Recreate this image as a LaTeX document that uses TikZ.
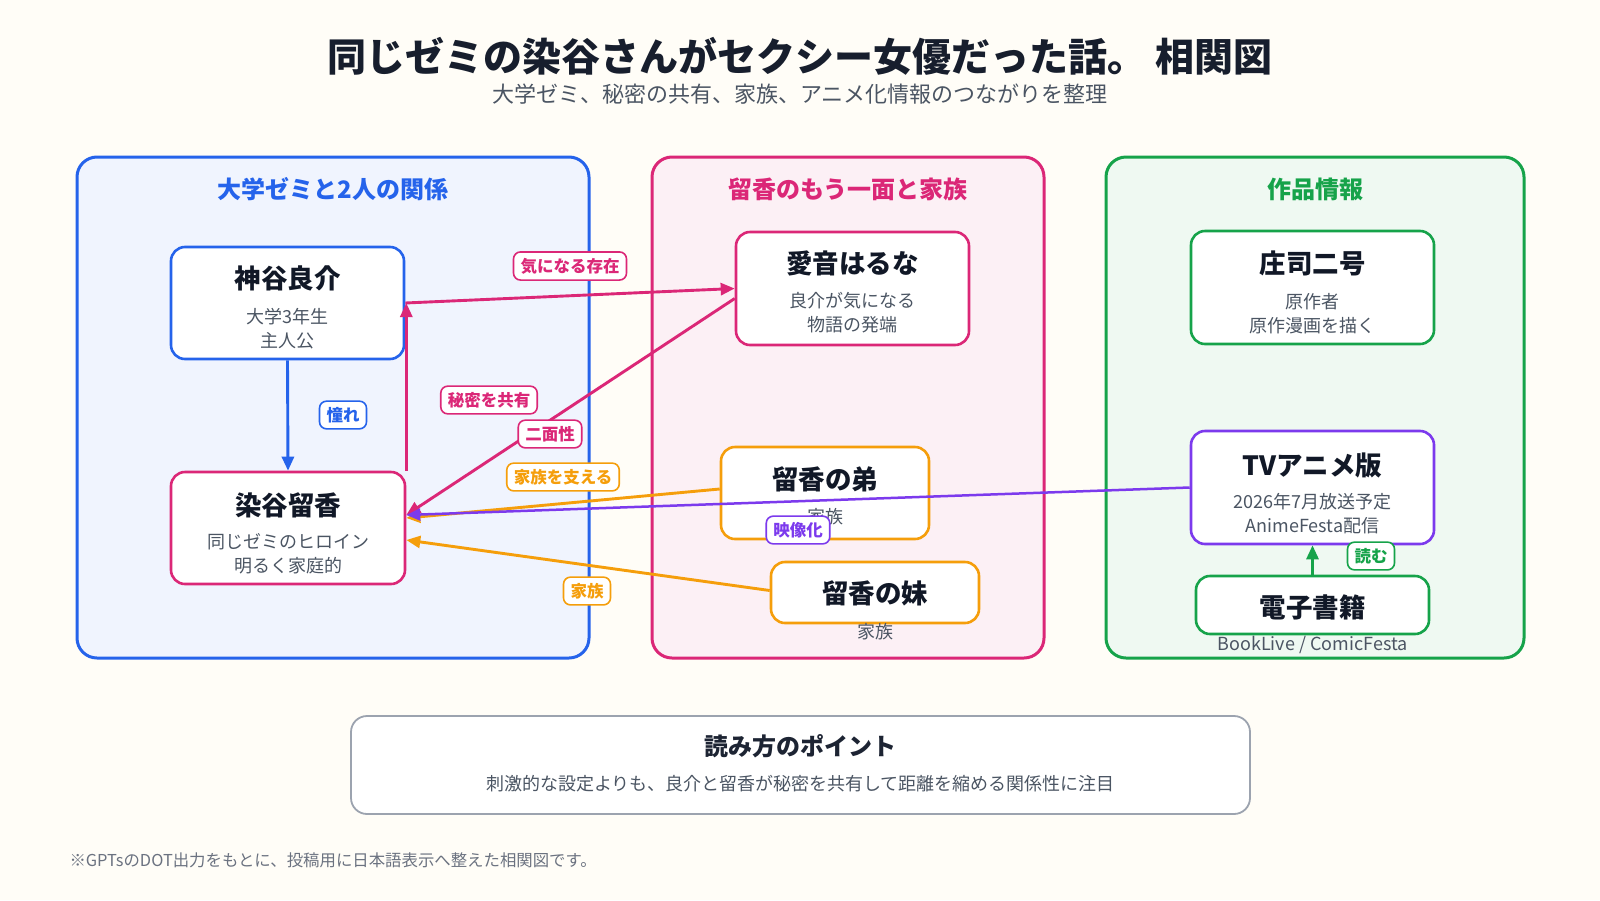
\documentclass[tikz,border=0pt]{standalone}
\usepackage{fontspec}
\setmainfont{Noto Sans CJK JP}
\usetikzlibrary{arrows.meta}

\definecolor{bg}{HTML}{FFFDF7}
\definecolor{ink}{HTML}{111827}
\definecolor{subink}{HTML}{4B5563}
\definecolor{noteink}{HTML}{6B7280}
\definecolor{cblue}{HTML}{2563EB}
\definecolor{cpink}{HTML}{DB2777}
\definecolor{cgreen}{HTML}{16A34A}
\definecolor{corange}{HTML}{F59E0B}
\definecolor{cpurple}{HTML}{7C3AED}
\definecolor{cgray}{HTML}{9CA3AF}

\begin{document}
\begin{tikzpicture}[x=1pt, y=-1pt, >={Triangle[length=14pt, width=12pt]},
	panel/.style={draw=#1, fill=#1!7, line width=3pt, rounded corners=20pt},
	card/.style={draw=#1, fill=white, line width=2.6pt, rounded corners=14pt, inner sep=0pt},
	ttl/.style={font=\fontsize{26.5}{30}\selectfont\bfseries, text=ink},
	sub/.style={font=\fontsize{18}{24}\selectfont, text=subink, align=center},
	head/.style={font=\fontsize{24}{28}\selectfont\bfseries, text=#1},
	rel/.style={draw=#1, line width=2.9pt, ->},
	tag/.style={draw=#1, text=#1, fill=white, line width=1.6pt, rounded corners=7pt, inner xsep=7pt, inner ysep=6pt, font=\fontsize{16.5}{18}\selectfont\bfseries}]
	\fill[bg] (0,0) rectangle (1600,900);
	\useasboundingbox (0,0) rectangle (1600,900);

	\node[font=\fontsize{39}{44}\selectfont\bfseries, text=ink!90!subink] (title) at (800,56) {同じゼミの染谷さんがセクシー女優だった話。 相関図};
	\node[font=\fontsize{22}{25}\selectfont, text=subink] (subtitle) at (800,94) {大学ゼミ、秘密の共有、家族、アニメ化情報のつながりを整理};

	% three groups
	\draw[panel=cblue] (77,157) rectangle (589,658);
	\draw[panel=cpink] (652,157) rectangle (1044,658);
	\draw[panel=cgreen] (1106,157) rectangle (1524,658);
	\node[head=cblue] (h-zemi) at (333,189) {大学ゼミと2人の関係};
	\node[head=cpink] (h-family) at (848,189) {留香のもう一面と家族};
	\node[head=cgreen] (h-work) at (1315,189) {作品情報};

	% people and works
	\node[card=cblue, minimum width=233pt, minimum height=112pt] (kamiya) at (287.5,303) {};
	\node[card=cpink, minimum width=234pt, minimum height=112pt] (somaya) at (288,528) {};
	\node[card=cpink, minimum width=233pt, minimum height=113pt] (aine) at (852.5,288.5) {};
	\node[card=corange, minimum width=208pt, minimum height=92pt] (otouto) at (825,493) {};
	\node[card=corange, minimum width=208pt, minimum height=61pt] (imouto) at (875,592.5) {};
	\node[card=cgreen, minimum width=243pt, minimum height=113pt] (shoji) at (1312.5,287.5) {};
	\node[card=cpurple, minimum width=243pt, minimum height=113pt] (tv) at (1312.5,487.5) {};
	\node[card=cgreen, minimum width=233pt, minimum height=58pt] (denshi) at (1312.5,605) {};

	\node[ttl] (kamiya-t) at (287.5,278) {神谷良介};
	\node[sub] (kamiya-s) at (287.5,329) {大学3年生\\主人公};
	\node[ttl] (somaya-t) at (288,505) {染谷留香};
	\node[sub] (somaya-s) at (288,554) {同じゼミのヒロイン\\明るく家庭的};
	\node[ttl] (aine-t) at (852.5,263) {愛音はるな};
	\node[sub] (aine-s) at (852.5,313) {良介が気になる\\物語の発端};
	\node[ttl] (otouto-t) at (825,479) {留香の弟};
	\node[sub] (otouto-s) at (825,517) {家族};
	\node[ttl] (imouto-t) at (875,593) {留香の妹};
	\node[sub] (imouto-s) at (875,632) {家族};
	\node[ttl] (shoji-t) at (1312.5,263) {庄司二号};
	\node[sub] (shoji-s) at (1312.5,313.5) {原作者\\原作漫画を描く};
	\node[ttl] (tv-t) at (1312.5,465) {TVアニメ版};
	\node[sub] (tv-s) at (1312.5,513.5) {2026年7月放送予定\\AnimeFesta配信};
	\node[ttl] (denshi-t) at (1312.5,607) {電子書籍};
	\node[sub] (denshi-s) at (1312.5,645) {BookLive / ComicFesta};

	% relations
	\draw[rel=cblue] (kamiya.south) -- (somaya.north);
	\draw[rel=cpink] (kamiya.east) -- (aine.west);
	\draw[rel=cpink] (somaya.north east) -- (somaya.north east |- kamiya.east);
	\draw[rel=cpink] ([yshift=-10pt]aine.west) -- ([yshift=13pt]somaya.east);
	\draw[rel=corange] ([yshift=4pt]otouto.west) -- ([yshift=10pt]somaya.east);
	\draw[rel=cpurple, line width=2.5pt] (tv.west) -- ([yshift=13pt]somaya.east);
	\draw[rel=corange] ([yshift=2pt]imouto.west) -- ([yshift=-12pt]somaya.east);
	\draw[rel=cgreen] (denshi.north) -- (tv.south);

	\node[tag=cblue] (l-akogare) at (343,415) {憧れ};
	\node[tag=cpink] (l-kininaru) at (570,266) {気になる存在};
	\node[tag=cpink] (l-himitsu) at (489,400) {秘密を共有};
	\node[tag=cpink] (l-nimen) at (550,434) {二面性};
	\node[tag=corange] (l-sasaeru) at (563,477) {家族を支える};
	\node[tag=cpurple] (l-eizou) at (798,530) {映像化};
	\node[tag=corange] (l-kazoku) at (587,591) {家族};
	\node[tag=cgreen] (l-yomu) at (1371,556) {読む};

	% reading note
	\node[draw=cgray, fill=white, line width=1.8pt, rounded corners=16pt, minimum width=899pt, minimum height=98pt] (point) at (800.5,765) {};
	\node[font=\fontsize{24}{28}\selectfont\bfseries, text=ink!80!subink] (point-t) at (800.5,746) {読み方のポイント};
	\node[sub] (point-s) at (800.5,784) {刺激的な設定よりも、良介と留香が秘密を共有して距離を縮める関係性に注目};

	\node[font=\fontsize{16.4}{18}\selectfont, text=noteink, anchor=west] (note) at (66,860) {※GPTsのDOT出力をもとに、投稿用に日本語表示へ整えた相関図です。};
\end{tikzpicture}
\end{document}
